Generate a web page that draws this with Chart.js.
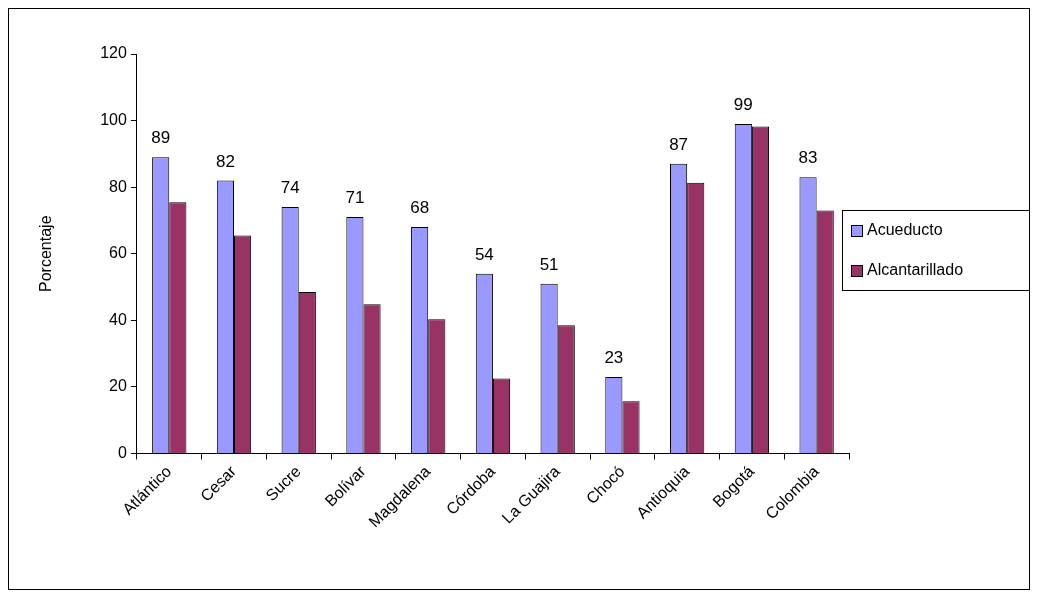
<!DOCTYPE html>
<html><head><meta charset="utf-8">
<script src="https://cdn.jsdelivr.net/npm/chart.js@4"></script>
<style>html,body{margin:0;padding:0;background:#fff}#w{width:1039px;height:597px}</style>
</head><body><div id="w"><canvas id="c"></canvas></div>
<script>
const categories=["Atlántico","Cesar","Sucre","Bolívar","Magdalena","Córdoba","La Guajira","Chocó","Antioquia","Bogotá","Colombia"];
const acueducto=[89,82,74,71,68,54,51,23,87,99,83];
const alcantarillado=[75.5,65.5,48.5,44.8,40.3,22.5,38.5,15.7,81.3,98.2,73];
const yTicks=[0,20,40,60,80,100,120];
const F="'Liberation Sans', Arial, sans-serif";
const deco={id:'deco',afterDraw(ch){const x=ch.ctx;x.save();
x.strokeStyle='#000';x.lineWidth=1;x.strokeRect(8.5,8.5,1021,581);
const m=ch.getDatasetMeta(0);x.fillStyle='#000';x.font='17px '+F;x.textAlign='center';x.textBaseline='bottom';
m.data.forEach((b,i)=>x.fillText(acueducto[i],b.x,b.y-10));
x.strokeRect(842.5,210.5,187,80);x.font='16px '+F;x.textAlign='left';x.textBaseline='middle';
[[ '#9999FF','Acueducto',231],['#993366','Alcantarillado',271]].forEach(([c,t,y])=>{x.fillStyle=c;x.fillRect(851,y-6,11,11);x.strokeRect(851.5,y-5.5,11,11);x.fillStyle='#000';x.fillText(t,867,y);});
x.restore();}};
new Chart(document.getElementById('c'),{type:'bar',
data:{labels:categories,datasets:[
{label:'Acueducto',data:acueducto,backgroundColor:'#9999FF',borderColor:'#000',borderWidth:1,borderSkipped:'bottom',barPercentage:1,categoryPercentage:0.53},
{label:'Alcantarillado',data:alcantarillado,backgroundColor:'#993366',borderColor:'#000',borderWidth:1,borderSkipped:'bottom',barPercentage:1,categoryPercentage:0.53}]},
options:{responsive:true,maintainAspectRatio:false,animation:false,
layout:{padding:{left:33,right:190,top:54,bottom:62}},
plugins:{legend:{display:false},tooltip:{enabled:false}},
scales:{
x:{grid:{display:true,drawOnChartArea:false,drawTicks:true,tickLength:6,color:'#000'},border:{color:'#000'},
ticks:{color:'#000',font:{size:16,family:F},maxRotation:45,minRotation:45}},
y:{min:0,max:120,afterBuildTicks(a){a.ticks=yTicks.map(v=>({value:v}));},
grid:{display:true,drawOnChartArea:false,drawTicks:true,tickLength:6,color:'#000'},border:{color:'#000'},
ticks:{color:'#000',font:{size:16,family:F},padding:4},
title:{display:true,text:'Porcentaje',color:'#000',font:{size:16,family:F},padding:{top:4,bottom:40}}}}},
plugins:[deco]});
</script></body></html>
